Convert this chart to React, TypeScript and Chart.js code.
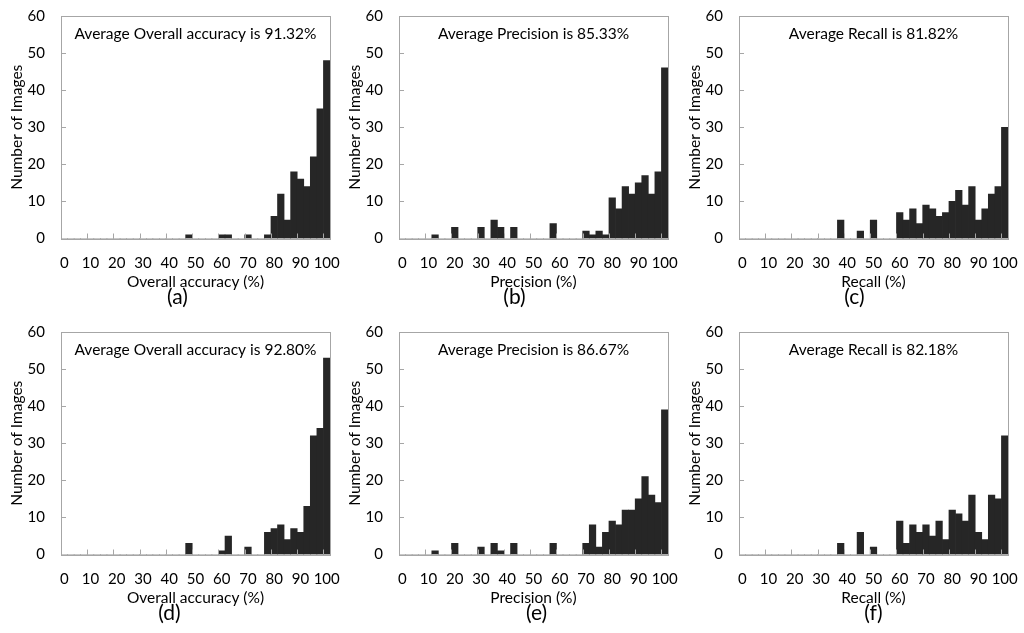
import React, { useEffect, useRef } from "react";
import { Chart, registerables } from "chart.js";

Chart.register(...registerables);

// Histogram bins (2.5 % wide), every 4th one labelled on the axis
const BIN_LABELS = [
  "0", "2.5", "5", "7.5", "10", "12.5", "15", "17.5", "20", "22.5",
  "25", "27.5", "30", "32.5", "35", "37.5", "40", "42.5", "45", "47.5",
  "50", "52.5", "55", "57.5", "60", "62.5", "65", "67.5", "70", "72.5",
  "75", "77.5", "80", "82.5", "85", "87.5", "90", "92.5", "95", "97.5",
  "100",
];
const Y_TICKS = [0, 10, 20, 30, 40, 50, 60];

// (a) Overall accuracy
const ACCURACY_A = [
  0, 0, 0, 0, 0, 0, 0, 0, 0, 0,
  0, 0, 0, 0, 0, 0, 0, 0, 0, 1,
  0, 0, 0, 0, 1, 1, 0, 0, 1, 0,
  0, 1, 6, 12, 5, 18, 16, 14, 22, 35,
  48,
];
// (b) Precision
const PRECISION_B = [
  0, 0, 0, 0, 0, 1, 0, 0, 3, 0,
  0, 0, 3, 0, 5, 3, 0, 3, 0, 0,
  0, 0, 0, 4, 0, 0, 0, 0, 2, 1,
  2, 1, 11, 8, 14, 12, 15, 17, 12, 18,
  46,
];
// (c) Recall
const RECALL_C = [
  0, 0, 0, 0, 0, 0, 0, 0, 0, 0,
  0, 0, 0, 0, 0, 5, 0, 0, 2, 0,
  5, 0, 0, 0, 7, 5, 8, 4, 9, 8,
  6, 7, 10, 13, 9, 14, 5, 8, 12, 14,
  30,
];
// (d) Overall accuracy
const ACCURACY_D = [
  0, 0, 0, 0, 0, 0, 0, 0, 0, 0,
  0, 0, 0, 0, 0, 0, 0, 0, 0, 3,
  0, 0, 0, 0, 1, 5, 0, 0, 2, 0,
  0, 6, 7, 8, 4, 7, 6, 13, 32, 34,
  53,
];
// (e) Precision
const PRECISION_E = [
  0, 0, 0, 0, 0, 1, 0, 0, 3, 0,
  0, 0, 2, 0, 3, 1, 0, 3, 0, 0,
  0, 0, 0, 3, 0, 0, 0, 0, 3, 8,
  2, 6, 9, 8, 12, 12, 15, 21, 16, 14,
  39,
];
// (f) Recall
const RECALL_F = [
  0, 0, 0, 0, 0, 0, 0, 0, 0, 0,
  0, 0, 0, 0, 0, 3, 0, 0, 6, 0,
  2, 0, 0, 0, 9, 3, 8, 6, 8, 5,
  9, 4, 12, 11, 9, 16, 6, 4, 16, 15,
  32,
];

const X_TITLES = ["Overall accuracy (%)", "Precision (%)", "Recall (%)"];
const NOTES = [
  "Average Overall accuracy is 91.32%",
  "Average Precision is 85.33%",
  "Average Recall is 81.82%",
  "Average Overall accuracy is 92.80%",
  "Average Precision is 86.67%",
  "Average Recall is 82.18%",
];
const TAGS = ["(a)", "(b)", "(c)", "(d)", "(e)", "(f)"];
const SERIES = [ACCURACY_A, PRECISION_B, RECALL_C, ACCURACY_D, PRECISION_E, RECALL_F];

// styling: horizontal shift of each panel tag relative to the plot centre
const TAG_SHIFT = [-18, -19, -19, -26, 3, 0];

const FONT = "Lato, 'Open Sans', sans-serif";
const BAR_COLOR = "#262626";
const FRAME_COLOR = "#a6a6a6";
const CANVAS_W = 340;
const CANVAS_H = 316;

const decorPlugin = {
  id: "decor",
  afterDatasetsDraw(chart: any, _args: any, opts: any) {
    const { ctx, chartArea: a, scales } = chart;
    const xs = scales.x;
    const ys = scales.y;
    ctx.save();
    ctx.strokeStyle = FRAME_COLOR;
    ctx.lineWidth = 1;
    ctx.beginPath();
    for (const v of Y_TICKS) {
      if (v === 0 || v === 60) continue;
      const py = Math.round(ys.getPixelForValue(v)) + 0.5;
      ctx.moveTo(a.left, py);
      ctx.lineTo(a.left + 5, py);
    }
    const half = (xs.getPixelForValue(1) - xs.getPixelForValue(0)) / 2;
    for (let i = 4; i < BIN_LABELS.length; i += 4) {
      const px = Math.round(xs.getPixelForValue(i) - half) + 0.5;
      ctx.moveTo(px, a.bottom);
      ctx.lineTo(px, a.bottom - 5);
    }
    ctx.stroke();
    ctx.strokeRect(
      Math.round(a.left) + 0.5,
      Math.round(a.top) + 0.5,
      Math.round(a.right - a.left),
      Math.round(a.bottom - a.top)
    );
    ctx.fillStyle = "#000";
    ctx.textAlign = "center";
    ctx.textBaseline = "middle";
    ctx.font = `15.5px ${FONT}`;
    ctx.fillText(opts.note, (a.left + a.right) / 2, a.top + 18);
    ctx.font = `21px ${FONT}`;
    ctx.fillText(opts.tag, (a.left + a.right) / 2 + opts.tagDx, a.bottom + 59);
    ctx.restore();
  },
};

function Panel({ index }: { index: number }) {
  const ref = useRef<HTMLCanvasElement | null>(null);
  useEffect(() => {
    if (!ref.current) return;
    const col = index % 3;
    const chart = new Chart(ref.current, {
      type: "bar",
      data: {
        labels: BIN_LABELS,
        datasets: [
          {
            data: SERIES[index],
            backgroundColor: BAR_COLOR,
            borderWidth: 0,
            categoryPercentage: 1,
            barPercentage: 1,
          },
        ],
      },
      plugins: [decorPlugin],
      options: {
        responsive: false,
        animation: false,
        devicePixelRatio: 1,
        layout: { padding: { top: 16, right: 10, left: 0, bottom: 0 } },
        plugins: {
          legend: { display: false },
          tooltip: { enabled: false },
          decor: { note: NOTES[index], tag: TAGS[index], tagDx: TAG_SHIFT[index] },
        } as any,
        scales: {
          x: {
            type: "category",
            offset: true,
            grid: { display: false, drawTicks: false },
            border: { display: false },
            ticks: {
              autoSkip: false,
              maxRotation: 0,
              minRotation: 0,
              padding: 16,
              color: "#000",
              font: { family: FONT, size: 15 },
              callback: (_v: any, i: number) => (i % 4 === 0 ? BIN_LABELS[i] : ""),
            },
            title: {
              display: true,
              text: X_TITLES[col],
              color: "#000",
              font: { family: FONT, size: 15.5 },
              padding: { top: 0, bottom: 25 },
            },
            afterFit: (s: any) => {
              s.height = 77.5;
              s.paddingLeft = 0;
              s.paddingRight = 0;
            },
          },
          y: {
            min: 0,
            max: 60,
            grid: { display: false, drawTicks: false },
            border: { display: false },
            ticks: {
              stepSize: 10,
              padding: 16,
              color: "#000",
              font: { family: FONT, size: 15 },
            },
            title: {
              display: true,
              text: "Number of Images",
              color: "#000",
              font: { family: FONT, size: 15.5 },
              padding: { top: 8, bottom: 0 },
            },
            afterFit: (s: any) => {
              s.width = 61;
              s.paddingTop = 0;
              s.paddingBottom = 0;
            },
          },
        },
      } as any,
    });
    return () => chart.destroy();
  }, [index]);
  const col = index % 3;
  const row = Math.floor(index / 3);
  const lefts = [0, 338, 678];
  return (
    <canvas
      ref={ref}
      width={CANVAS_W}
      height={CANVAS_H}
      style={{
        position: "absolute",
        left: lefts[col],
        top: row * CANVAS_H,
        width: CANVAS_W,
        height: CANVAS_H,
      }}
    />
  );
}

export default function App() {
  return (
    <div
      style={{
        position: "fixed",
        left: 0,
        top: 0,
        width: 1024,
        height: 633,
        background: "#fff",
        overflow: "hidden",
      }}
    >
      {SERIES.map((_, i) => (
        <Panel key={i} index={i} />
      ))}
    </div>
  );
}
